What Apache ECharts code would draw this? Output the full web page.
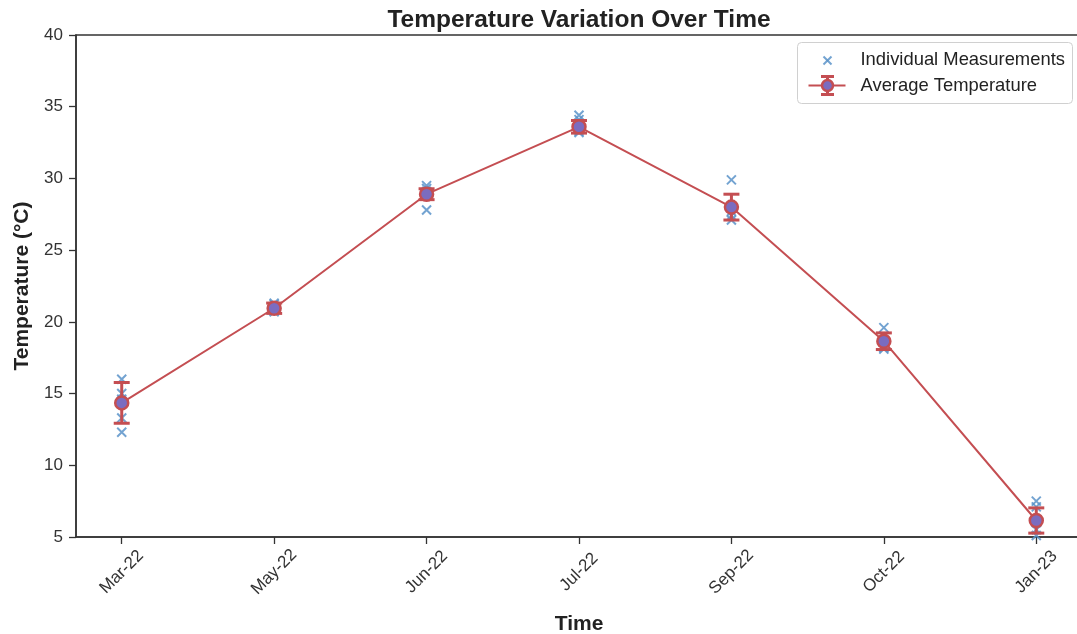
<!DOCTYPE html>
<html>
<head>
<meta charset="utf-8">
<script src="https://cdn.jsdelivr.net/npm/echarts@6/dist/echarts.min.js"></script>
<style>
  html, body { margin: 0; padding: 0; background: #fff; }
  #chart { width: 1077px; height: 634px; }
</style>
</head>
<body>
<div id="chart"></div>
<script>
// Month labels along the time axis
const months = ['Mar-22', 'May-22', 'Jun-22', 'Jul-22', 'Sep-22', 'Oct-22', 'Jan-23'];

// Individual readings for each month (°C)
const readings = [
  [16.0, 15.0, 14.6, 13.3, 12.3],
  [21.3, 21.2, 21.0, 20.8, 20.7],
  [29.5, 29.3, 29.1, 28.9, 27.8],
  [34.4, 34.1, 33.6, 33.3, 33.2],
  [29.9, 28.0, 27.7, 27.4, 27.1],
  [19.6, 19.0, 18.6, 18.2, 18.1],
  [7.5, 7.1, 6.0, 5.5, 5.1]
];

// Monthly average and spread (°C)
const averages = [14.35, 20.95, 28.9, 33.6, 28.0, 18.65, 6.15];
const spreads = [1.42, 0.36, 0.38, 0.44, 0.9, 0.58, 0.88];

const yTicks = [5, 10, 15, 20, 25, 30, 35, 40];

const RED = '#C44E52';
const BLUE = '#5b93c9';
const FILL = '#7b6cc0';
const AXIS = '#333333';
const FONT = '"Liberation Sans", Arial, sans-serif';

const scatterData = [];
readings.forEach((vals, i) => vals.forEach(v => scatterData.push([i, v])));
const avgData = averages.map((v, i) => [i, v]);
const errData = averages.map((v, i) => [i, v - spreads[i], v + spreads[i]]);

const crossPath = 'path://M0,0L10,10M10,0L0,10';

// Legend box drawn by hand so the average entry can show its error-bar glyph
const LX = 797, LY = 42;
const legendGraphic = {
  type: 'group',
  left: LX,
  top: LY,
  z: 100,
  children: [
    { type: 'rect', shape: { x: 0, y: 0, width: 275, height: 61, r: 4 }, style: { fill: '#fff', stroke: '#d0d0d0', lineWidth: 1 } },
    // measurement marker
    { type: 'line', shape: { x1: 26, y1: 14, x2: 34, y2: 22 }, style: { stroke: BLUE, lineWidth: 2, opacity: 0.85 } },
    { type: 'line', shape: { x1: 34, y1: 14, x2: 26, y2: 22 }, style: { stroke: BLUE, lineWidth: 2, opacity: 0.85 } },
    { type: 'text', style: { x: 63, y: 17, text: 'Individual Measurements', fill: '#222', font: '18.4px ' + FONT, verticalAlign: 'middle' } },
    // average marker with error bar
    { type: 'line', shape: { x1: 11, y1: 43, x2: 48, y2: 43 }, style: { stroke: RED, lineWidth: 2 } },
    { type: 'line', shape: { x1: 30, y1: 34, x2: 30, y2: 52 }, style: { stroke: RED, lineWidth: 3 } },
    { type: 'line', shape: { x1: 23.5, y1: 34, x2: 36.5, y2: 34 }, style: { stroke: RED, lineWidth: 3 } },
    { type: 'line', shape: { x1: 23.5, y1: 52, x2: 36.5, y2: 52 }, style: { stroke: RED, lineWidth: 3 } },
    { type: 'circle', shape: { cx: 30, cy: 43, r: 5.5 }, style: { fill: FILL, stroke: RED, lineWidth: 2.5 } },
    { type: 'text', style: { x: 63, y: 43, text: 'Average Temperature', fill: '#222', font: '18.4px ' + FONT, verticalAlign: 'middle' } }
  ]
};

const chart = echarts.init(document.getElementById('chart'), null, { renderer: 'canvas' });

chart.setOption({
  backgroundColor: '#ffffff',
  animation: false,
  textStyle: { fontFamily: FONT },
  title: {
    text: 'Temperature Variation Over Time',
    left: 574,
    textAlign: 'center',
    top: 3,
    textStyle: { fontFamily: FONT, fontSize: 24.5, fontWeight: 'bold', color: '#222' }
  },
  grid: {
    left: 76, right: -5, top: 35, bottom: 97,
    outerBoundsMode: 'none',
    containLabel: false,
    show: true, borderColor: AXIS, borderWidth: 1.5, backgroundColor: 'transparent'
  },
  graphic: [legendGraphic],
  xAxis: {
    type: 'value',
    min: -0.3,
    max: 6.3,
    name: 'Time',
    nameLocation: 'middle',
    nameGap: 77,
    nameTextStyle: { fontFamily: FONT, fontSize: 21, fontWeight: 'bold', color: '#222' },
    splitLine: { show: false },
    axisLine: { show: true, onZero: false, lineStyle: { color: AXIS, width: 1.5 } },
    axisTick: { show: true, length: 7, lineStyle: { color: AXIS, width: 1.3 }, customValues: months.map((m, i) => i) },
    axisLabel: {
      customValues: months.map((m, i) => i),
      formatter: v => months[Math.round(v)] || '',
      rotate: 45,
      align: 'center',
      verticalAlign: 'middle',
      margin: 35,
      fontFamily: FONT,
      fontSize: 17,
      color: '#333'
    }
  },
  yAxis: {
    type: 'value',
    min: 5,
    max: 40,
    interval: 5,
    name: 'Temperature (°C)',
    nameLocation: 'middle',
    nameGap: 42,
    nameTextStyle: { fontFamily: FONT, fontSize: 21, fontWeight: 'bold', color: '#222' },
    splitLine: { show: false },
    axisLine: { show: true, onZero: false, lineStyle: { color: AXIS, width: 1.5 } },
    axisTick: { show: true, length: 7, lineStyle: { color: AXIS, width: 1.3 } },
    axisLabel: {
      formatter: v => (yTicks.indexOf(v) >= 0 ? String(v) : ''),
      margin: 13,
      fontFamily: FONT,
      fontSize: 17,
      color: '#333'
    }
  },
  series: [
    {
      name: 'Individual Measurements',
      type: 'scatter',
      data: scatterData,
      symbol: crossPath,
      symbolSize: 9,
      itemStyle: { color: 'none', borderColor: BLUE, borderWidth: 2, opacity: 0.85 },
      z: 2
    },
    {
      name: 'Spread',
      type: 'custom',
      data: errData,
      z: 3,
      renderItem: function (params, api) {
        const x = api.value(0);
        const lo = api.coord([x, api.value(1)]);
        const hi = api.coord([x, api.value(2)]);
        const cap = 8;
        const style = { stroke: RED, lineWidth: 3, fill: null };
        return {
          type: 'group',
          children: [
            { type: 'line', shape: { x1: lo[0], y1: lo[1], x2: hi[0], y2: hi[1] }, style: style },
            { type: 'line', shape: { x1: lo[0] - cap, y1: lo[1], x2: lo[0] + cap, y2: lo[1] }, style: style },
            { type: 'line', shape: { x1: hi[0] - cap, y1: hi[1], x2: hi[0] + cap, y2: hi[1] }, style: style }
          ]
        };
      }
    },
    {
      name: 'Average Temperature',
      type: 'line',
      data: avgData,
      symbol: 'circle',
      symbolSize: 13,
      showAllSymbol: true,
      lineStyle: { color: RED, width: 2 },
      itemStyle: { color: FILL, borderColor: RED, borderWidth: 2.5 },
      z: 4
    }
  ]
});
</script>
</body>
</html>
